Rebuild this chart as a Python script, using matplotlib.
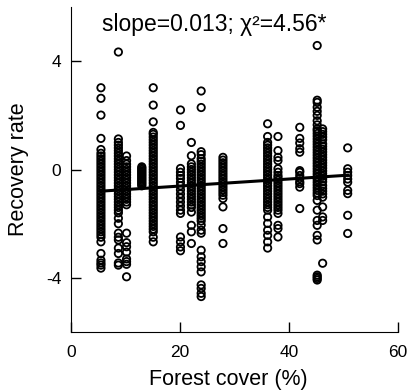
import numpy as np
import matplotlib
matplotlib.use('Agg')
import matplotlib.pyplot as plt

plt.rcParams['font.family'] = ['Liberation Sans', 'DejaVu Sans']
plt.rcParams['axes.unicode_minus'] = False

# forest cover of each site (x) and the recovery rates read at that site (y)
cover = [5.5, 8.7, 10.2, 13.0, 15.1, 20.1, 22.1, 23.9, 27.9, 36.1, 38.0, 42.0, 45.2, 46.2, 50.8]

rates = [
    [3.02, 2.63, 2.01, 1.15, 0.74, 0.6, 0.5, 0.4, 0.3, 0.2, 0.1, 0.0, -0.1, -0.2, -0.3, -0.4, -0.5,
     -0.6, -0.7, -0.8, -0.9, -1.0, -1.1, -1.2, -1.3, -1.4, -1.5, -1.6, -1.7, -1.8, -1.9, -2.0, -2.1,
     -2.2, -2.3, -2.4, -2.5, -2.67, -3.1, -3.35, -3.45, -3.53, -3.64],
    [4.34, 1.13, 1.0, 0.9, 0.8, 0.7, 0.6, 0.5, 0.4, 0.3, 0.2, 0.1, 0.0, -0.1, -0.2, -0.3, -0.4, -0.5,
     -0.6, -0.7, -0.8, -0.9, -1.0, -1.1, -1.2, -1.3, -1.4, -1.5, -1.6, -1.8, -2.0, -2.35, -2.5, -2.6,
     -2.9, -3.1, -3.45, -3.53],
    [0.5, 0.33, 0.2, 0.1, 0.0, -0.1, -0.2, -0.3, -0.4, -0.5, -0.6, -0.7, -0.8, -0.9, -1.0, -1.1,
     -1.2, -1.3, -2.35, -2.7, -2.85, -3.05, -3.3, -3.4, -3.5, -3.96],
    [0.1, 0.05, 0.0, -0.05, -0.1, -0.15, -0.2, -0.25, -0.3, -0.35, -0.4, -0.45, -0.5, -0.55, -0.6],
    [3.02, 2.38, 1.76, 1.37, 1.3, 1.2, 1.1, 1.0, 0.9, 0.8, 0.7, 0.6, 0.5, 0.4, 0.3, 0.2, 0.1, 0.0,
     -0.1, -0.2, -0.3, -0.4, -0.5, -0.6, -0.7, -0.8, -0.9, -1.0, -1.1, -1.2, -1.3, -1.4, -1.5, -1.6,
     -1.7, -1.8, -1.9, -2.0, -2.1, -2.2, -2.3, -2.5, -2.67],
    [2.2, 1.63, 0.04, -0.1, -0.22, -0.33, -0.47, -0.6, -0.75, -0.9, -1.05, -1.2, -1.35, -1.5, -1.62,
     -2.49, -2.67, -2.86, -3.0],
    [1.0, 0.51, 0.21, 0.1, 0.0, -0.1, -0.2, -0.3, -0.4, -0.5, -0.6, -0.7, -0.8, -0.9, -1.0, -1.1,
     -1.2, -1.3, -1.4, -1.57, -2.06, -2.3, -2.73],
    [2.9, 2.29, 0.66, 0.55, 0.4, 0.3, 0.2, 0.1, 0.0, -0.1, -0.2, -0.3, -0.4, -0.5, -0.6, -0.7, -0.8,
     -0.9, -1.0, -1.1, -1.2, -1.3, -1.4, -1.5, -1.6, -1.7, -1.8, -1.9, -2.05, -2.24, -2.35, -2.98,
     -3.22, -3.4, -3.59, -3.78, -4.26, -4.39, -4.57, -4.69],
    [0.45, 0.35, 0.25, 0.15, 0.05, -0.05, -0.15, -0.25, -0.35, -0.45, -0.55, -0.65, -0.75, -0.85,
     -0.95, -1.07, -1.38, -2.18, -2.73],
    [1.69, 1.22, 1.0, 0.9, 0.8, 0.7, 0.6, 0.5, 0.4, 0.3, 0.2, 0.1, 0.0, -0.1, -0.2, -0.3, -0.4, -0.5,
     -0.6, -0.7, -0.8, -0.9, -1.0, -1.1, -1.2, -1.3, -1.4, -1.5, -1.75, -1.99, -2.24, -2.43, -2.67,
     -2.9],
    [1.22, 0.7, 0.45, 0.33, 0.03, -0.1, -0.22, -0.3, -0.4, -0.5, -0.6, -0.7, -0.8, -0.9, -1.0, -1.1,
     -1.2, -1.3, -1.4, -1.5, -1.62, -2.06, -2.18, -2.49],
    [1.56, 1.15, 0.98, 0.77, 0.64, -0.04, -0.1, -0.22, -0.33, -0.45, -0.52, -0.65, -1.44],
    [4.58, 2.56, 2.48, 2.3, 2.15, 2.0, 1.8, 1.65, 1.5, 1.43, 1.33, 1.23, 1.13, 1.03, 0.93, 0.83,
     0.73, 0.63, 0.53, 0.43, 0.33, 0.23, 0.13, 0.03, -0.07, -0.17, -0.27, -0.37, -0.47, -0.57, -0.67,
     -0.77, -0.87, -0.96, -1.14, -1.5, -1.88, -2.06, -2.43, -2.6, -3.9, -3.96, -4.02, -4.08],
    [1.5, 1.4, 1.3, 1.2, 1.1, 0.95, 0.85, 0.75, 0.65, 0.55, 0.45, 0.35, 0.25, 0.15, 0.05, -0.05,
     -0.15, -0.25, -0.35, -0.45, -0.59, -0.7, -0.8, -0.9, -1.02, -1.38, -1.75, -1.88, -3.46],
    [0.8, 0.03, -0.1, -0.22, -0.35, -0.47, -0.77, -0.89, -1.69, -2.36],
]

slope = 0.013
intercept = -0.87
label = 'slope=0.013; χ²=4.56*'

fig = plt.figure(figsize=(4.08, 3.92), dpi=100)
ax = fig.add_axes([0.174, 0.153, 0.801, 0.829])

for xc, ys in zip(cover, rates):
    ax.scatter([xc] * len(ys), ys, s=28, facecolors='none', edgecolors='black', linewidths=1.3, zorder=2)

xl = np.array([min(cover), max(cover)])
ax.plot(xl, intercept + slope * xl, color='black', lw=2.2, zorder=3)

ax.set_xlim(0, 60)
ax.set_ylim(-6, 6)
ax.set_xticks([0, 20, 40, 60])
ax.set_yticks([-4, 0, 4])
ax.tick_params(direction='in', length=7, width=1, labelsize=12.5)
ax.tick_params(axis='x', pad=9)
ax.tick_params(axis='y', pad=7)
for s in ['top', 'right']:
    ax.spines[s].set_visible(False)

ax.set_xlabel('Forest cover (%)', fontsize=15.5)
ax.set_ylabel('Recovery rate', fontsize=15.5)
ax.xaxis.set_label_coords(0.48, -0.115)
ax.yaxis.set_label_coords(-0.13, 0.5)

ax.text(0.437, 0.945, label, transform=ax.transAxes, ha='center', va='center', fontsize=16.5)

fig.savefig('out.png', dpi=100)
